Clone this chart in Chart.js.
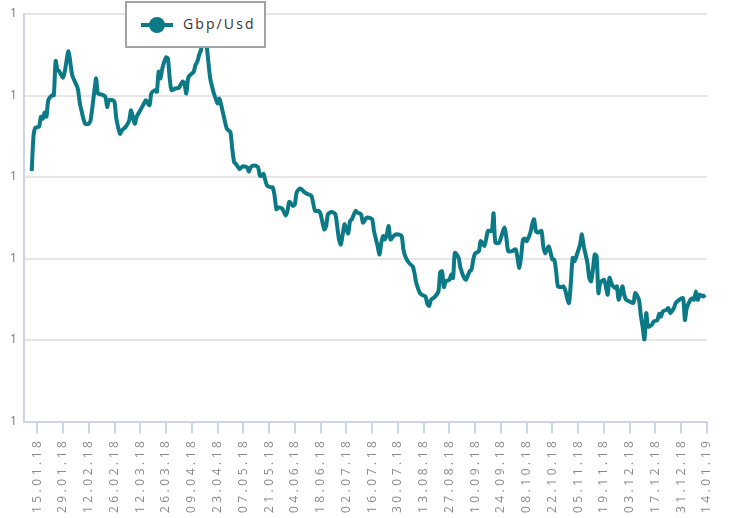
<!DOCTYPE html>
<html>
<head>
<meta charset="utf-8">
<script src="https://cdn.jsdelivr.net/npm/chart.js@4"></script>
<style>
  body { margin: 0; background: #fff; }
  #wrap { position: relative; width: 730px; height: 518px; }
  #legend {
    position: absolute; left: 125px; top: 1px; width: 137px; height: 43px;
    border: 2px solid #a3a3a3; background: #fff;
    font-family: "Open Sans", sans-serif; font-size: 14px; color: #333;
    letter-spacing: 2.1px;
  }
  #legend .line { position: absolute; left: 14px; top: 20px; width: 32px; height: 4px; background: #0b7a86; }
  #legend .dot { position: absolute; left: 22px; top: 14px; width: 16px; height: 16px; border-radius: 50%; background: #0b7a86; }
  #legend .txt { position: absolute; left: 56px; top: 11px; }
</style>
</head>
<body>
<div id="wrap">
  <canvas id="chart"></canvas>
  <div id="legend"><span class="line"></span><span class="dot"></span><span class="txt">Gbp/Usd</span></div>
</div>
<script>
document.addEventListener("DOMContentLoaded", function () {
    // days since 15.01.18
    const days = [
        -3, -2, -1, 1, 2, 3, 4, 5, 6, 8,
        9, 10, 11, 12, 14, 15, 17, 19, 22, 23,
        24, 26, 28, 29, 31, 32, 33, 35, 37, 38,
        39, 41, 42, 43, 45, 46, 48, 50, 51, 53,
        54, 56, 58, 59, 61, 62, 64, 65, 66, 67,
        68, 70, 71, 72, 73, 75, 77, 79, 80, 81,
        82, 83, 85, 86, 87, 88, 89, 90, 91, 92,
        93, 94, 96, 97, 98, 99, 100, 103, 104, 105,
        106, 107, 108, 110, 111, 112, 114, 115, 116, 118,
        120, 121, 122, 123, 124, 125, 127, 128, 129, 130,
        131, 133, 135, 136, 137, 139, 140, 141, 143, 145,
        147, 149, 151, 153, 154, 156, 157, 158, 160, 162,
        163, 164, 165, 166, 167, 168, 169, 170, 171, 173,
        174, 176, 177, 179, 180, 182, 183, 185, 186, 187,
        188, 189, 190, 191, 192, 194, 196, 198, 199, 200,
        202, 204, 205, 206, 208, 209, 211, 212, 213, 214,
        216, 218, 219, 220, 221, 222, 224, 225, 226, 227,
        229, 230, 232, 233, 235, 236, 237, 238, 240, 241,
        243, 244, 245, 247, 248, 249, 251, 252, 254, 255,
        256, 258, 260, 261, 262, 263, 264, 265, 266, 268,
        269, 270, 271, 272, 274, 275, 276, 278, 279, 280,
        281, 282, 283, 285, 286, 287, 288, 289, 290, 291,
        292, 293, 295, 296, 297, 299, 300, 301, 302, 303,
        304, 305, 306, 308, 309, 310, 311, 312, 313, 314,
        315, 316, 318, 319, 320, 322, 324, 325, 327, 328,
        329, 330, 331, 332, 334, 335, 337, 338, 339, 340,
        342, 343, 344, 346, 347, 349, 351, 352, 353, 355,
        356, 357, 358, 359, 360, 362, 363
    ];

    const gbpUsd = [
        1.3537, 1.3755, 1.3802, 1.3809, 1.3870, 1.3858, 1.3895, 1.3870, 1.3971, 1.4002,
        1.4002, 1.4212, 1.4156, 1.4148, 1.4109, 1.4148, 1.4272, 1.4125, 1.4043, 1.3963,
        1.3909, 1.3827, 1.3827, 1.3848, 1.4023, 1.4105, 1.4012, 1.4006, 1.3992, 1.3930,
        1.3971, 1.3971, 1.3961, 1.3858, 1.3765, 1.3786, 1.3807, 1.3848, 1.3909, 1.3827,
        1.3869, 1.3909, 1.3951, 1.3971, 1.3940, 1.4012, 1.4033, 1.4023, 1.4146, 1.4105,
        1.4167, 1.4233, 1.4228, 1.4105, 1.4033, 1.4043, 1.4048, 1.4085, 1.4074, 1.4012,
        1.4105, 1.4125, 1.4146, 1.4187, 1.4208, 1.4249, 1.4280, 1.4333, 1.4364, 1.4310,
        1.4208, 1.4105, 1.4012, 1.3981, 1.3951, 1.3981, 1.3940, 1.3796, 1.3786, 1.3776,
        1.3673, 1.3591, 1.3580, 1.3549, 1.3560, 1.3566, 1.3560, 1.3533, 1.3560, 1.3570,
        1.3560, 1.3508, 1.3508, 1.3519, 1.3477, 1.3446, 1.3436, 1.3436, 1.3385, 1.3302,
        1.3313, 1.3307, 1.3265, 1.3292, 1.3348, 1.3323, 1.3333, 1.3406, 1.3430, 1.3409,
        1.3395, 1.3385, 1.3292, 1.3292, 1.3272, 1.3179, 1.3199, 1.3272, 1.3286, 1.3272,
        1.3199, 1.3117, 1.3086, 1.3148, 1.3210, 1.3179, 1.3154, 1.3230, 1.3241, 1.3292,
        1.3282, 1.3272, 1.3220, 1.3251, 1.3251, 1.3241, 1.3169, 1.3076, 1.3025, 1.3097,
        1.3138, 1.3117, 1.3148, 1.3199, 1.3117, 1.3142, 1.3148, 1.3138, 1.3056, 1.3014,
        1.2973, 1.2952, 1.2912, 1.2850, 1.2788, 1.2778, 1.2767, 1.2722, 1.2710, 1.2747,
        1.2764, 1.2798, 1.2915, 1.2922, 1.2825, 1.2860, 1.2870, 1.2901, 1.2881, 1.3035,
        1.3004, 1.2943, 1.2881, 1.2870, 1.2922, 1.2932, 1.2994, 1.3031, 1.3045, 1.3107,
        1.3076, 1.3122, 1.3169, 1.3169, 1.3278, 1.3097, 1.3097, 1.3128, 1.3190, 1.3122,
        1.3045, 1.3045, 1.3056, 1.3004, 1.2943, 1.3014, 1.3117, 1.3122, 1.3107, 1.3159,
        1.3210, 1.3241, 1.3169, 1.3159, 1.3169, 1.3076, 1.3031, 1.3076, 1.3035, 1.2994,
        1.2994, 1.2922, 1.2829, 1.2825, 1.2829, 1.2804, 1.2757, 1.2727, 1.2850, 1.3004,
        1.2983, 1.3014, 1.3086, 1.3148, 1.3076, 1.2973, 1.2881, 1.2860, 1.2932, 1.3025,
        1.3014, 1.2788, 1.2850, 1.2870, 1.2829, 1.2778, 1.2881, 1.2850, 1.2829, 1.2819,
        1.2829, 1.2747, 1.2829, 1.2778, 1.2747, 1.2736, 1.2727, 1.2788, 1.2747, 1.2654,
        1.2582, 1.2504, 1.2665, 1.2582, 1.2593, 1.2613, 1.2623, 1.2660, 1.2644, 1.2675,
        1.2685, 1.2696, 1.2665, 1.2696, 1.2727, 1.2747, 1.2757, 1.2623, 1.2696, 1.2747,
        1.2757, 1.2747, 1.2798, 1.2747, 1.2778, 1.2767, 1.2778
    ];

    // one label every 14 days, starting at day 0
    const tickLabels = [
        "15.01.18", "29.01.18", "12.02.18", "26.02.18", "12.03.18", "26.03.18",
        "09.04.18", "23.04.18", "07.05.18", "21.05.18", "04.06.18", "18.06.18",
        "02.07.18", "16.07.18", "30.07.18", "13.08.18", "27.08.18", "10.09.18",
        "24.09.18", "08.10.18", "22.10.18", "05.11.18", "19.11.18", "03.12.18",
        "17.12.18", "31.12.18", "14.01.19"
    ];
    const tickStep = 14;

    const points = days.map((d, i) => ({ x: d, y: gbpUsd[i] }));

    // spaced-out letters like the original
    const spacing = {
        id: "spacing",
        beforeLayout(chart) { chart.ctx.letterSpacing = "3.5px"; },
        beforeDraw(chart) { chart.ctx.letterSpacing = "3.5px"; }
    };

    const axisBlue = "#cbd5ea";

    new Chart(document.getElementById("chart"), {
        type: "line",
        data: {
            datasets: [{
                label: "Gbp/Usd",
                data: points,
                borderColor: "#0b7a86",
                borderWidth: 4,
                pointRadius: 0,
                tension: 0.25,
                fill: false
            }]
        },
        options: {
            responsive: true,
            maintainAspectRatio: false,
            animation: false,
            layout: { padding: { top: 14, right: 23, left: 6, bottom: 1 } },
            plugins: {
                legend: { display: false },
                tooltip: { enabled: false }
            },
            scales: {
                x: {
                    type: "linear",
                    min: -7,
                    max: 364,
                    afterBuildTicks(scale) {
                        scale.ticks = tickLabels.map((_, i) => ({ value: i * tickStep }));
                    },
                    ticks: {
                        autoSkip: false,
                        minRotation: 90,
                        maxRotation: 90,
                        padding: 4,
                        color: "#8a8a8a",
                        font: { family: "Open Sans", size: 12 },
                        callback: (value, index) => tickLabels[index]
                    },
                    grid: {
                        drawOnChartArea: false,
                        color: axisBlue,
                        lineWidth: 2,
                        tickLength: 12
                    },
                    border: { color: axisBlue, width: 2 }
                },
                y: {
                    min: 1.2,
                    max: 1.45,
                    ticks: {
                        stepSize: 0.05,
                        padding: 4,
                        color: "#777",
                        font: { family: "Open Sans", size: 12 },
                        callback: (value) => value.toFixed(0)
                    },
                    grid: { color: "#e6e6e6", lineWidth: 2, drawTicks: false },
                    border: { color: axisBlue, width: 2 }
                }
            }
        },
        plugins: [spacing]
    });
});
</script>
</body>
</html>
